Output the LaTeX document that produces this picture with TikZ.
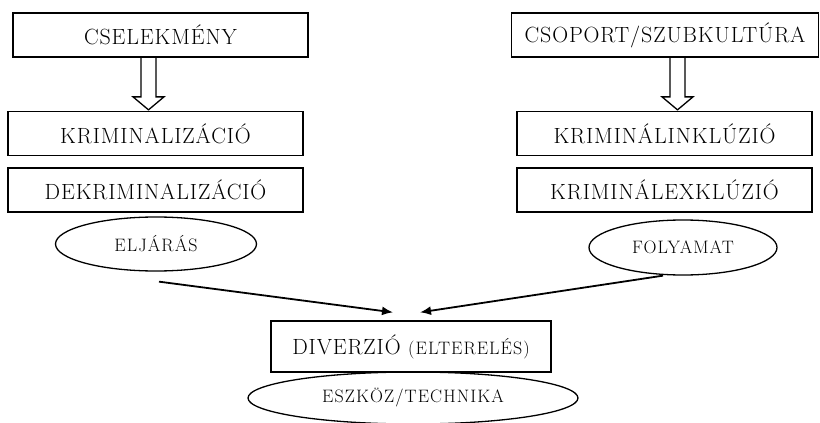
\documentclass[tikz,border=0pt]{standalone}
\usepackage{fontspec}
\usepackage{tikz}
\usetikzlibrary{shapes.geometric, calc, arrows.meta}
\newfontfamily\capsfont{Latin Modern Roman}[LetterSpace=4]
\newfontfamily\ovalfont{Latin Modern Roman}[LetterSpace=6]
\newcommand{\bigsize}{\capsfont\fontsize{22}{26}\selectfont}
\newcommand{\smallsize}{\ovalfont\fontsize{18}{21}\selectfont}
\newcommand{\hollowdown}[2]{%
  \draw[hollow] let \p1=(#1), \p2=(#2) in
    (\x1-7.5pt,\y1) -- (\x1-7.5pt,\y2+13pt) -- (\x1-15.5pt,\y2+13pt) -- (\x1,\y2)
    -- (\x1+15.5pt,\y2+13pt) -- (\x1+7.5pt,\y2+13pt) -- (\x1+7.5pt,\y1);}

\begin{document}
\begin{tikzpicture}[x=1pt,y=-1pt]
\useasboundingbox (0,0) rectangle (820,423);
\tikzstyle{box}=[draw,
                 rectangle,
                 line width=1.3pt,
                 minimum width=295pt,
                 minimum height=44pt,
                 inner sep=0pt,
                 font=\bigsize
                 ]
\tikzstyle{oval}=[draw, ellipse, line width=1.3pt, inner sep=0pt, font=\smallsize]
\tikzstyle{hollow}=[draw, line width=1.3pt]
\tikzstyle{arr}=[line width=1.8pt, -{Latex[length=11pt,width=9pt]}]

\node[box] (act) at (160.5,35) {CSELEKMÉNY};
\node[box] (krim) at (155.5,133.5) {KRIMINALIZÁCIÓ};
\node[box] (dekrim) at (155.5,190) {DEKRIMINALIZÁCIÓ};
\node[oval, minimum width=201pt, minimum height=54pt] (eljaras) at (156,244) {ELJÁRÁS};

\node[box, minimum width=307pt] (csop) at (665,35) {CSOPORT/SZUBKULTÚRA};
\node[box] (inkl) at (664.5,133.5) {KRIMINÁLINKLÚZIÓ};
\node[box] (exkl) at (664.5,190) {KRIMINÁLEXKLÚZIÓ};
\node[oval, minimum width=188pt, minimum height=55pt] (folyamat) at (683,247.5) {FOLYAMAT};

\node[box, minimum width=280pt, minimum height=51pt] (diverzio) at (411,346.5) {DIVERZIÓ {\smallsize(ELTERELÉS)}};
\node[oval, minimum width=330pt, minimum height=52pt] (eszkoz) at (413,398) {ESZKÖZ/TECHNIKA};

\hollowdown{[xshift=-12pt]act.south}{[yshift=1pt]krim.north}
\hollowdown{[xshift=12.5pt]csop.south}{[yshift=1pt]inkl.north}

\draw[arr] ([xshift=3pt,yshift=-10pt]eljaras.south) -- ([xshift=-18pt,yshift=8pt]diverzio.north);
\draw[arr] ([xshift=-20pt]folyamat.south) -- ([xshift=9pt,yshift=8pt]diverzio.north);

\end{tikzpicture}
\end{document}
